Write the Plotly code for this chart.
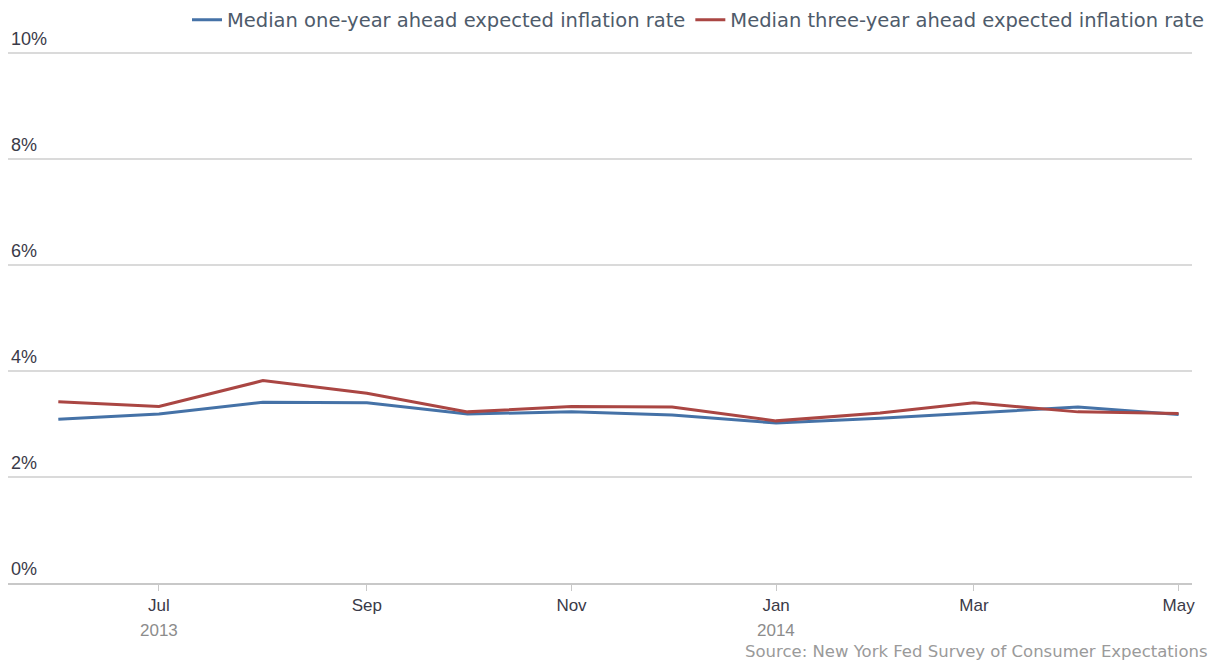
import plotly.graph_objects as go

months = ["2013-06-01", "2013-07-01", "2013-08-01", "2013-09-01", "2013-10-01", "2013-11-01",
          "2013-12-01", "2014-01-01", "2014-02-01", "2014-03-01", "2014-04-01", "2014-05-01"]
one_year = [3.09, 3.19, 3.41, 3.40, 3.19, 3.23, 3.17, 3.02, 3.11, 3.21, 3.32, 3.18]
three_year = [3.42, 3.33, 3.82, 3.58, 3.23, 3.33, 3.32, 3.06, 3.21, 3.40, 3.23, 3.20]

tick_dates = ["2013-07-01", "2013-09-01", "2013-11-01", "2014-01-01", "2014-03-01", "2014-05-01"]
tick_labels = ["Jul", "Sep", "Nov", "Jan", "Mar", "May"]
year_dates = ["2013-07-01", "2014-01-01"]
year_labels = ["2013", "2014"]
y_ticks = [0, 2, 4, 6, 8, 10]
y_labels = ["0%", "2%", "4%", "6%", "8%", "10%"]

# page has an 8px body margin, so the figure is shifted by 8px
OFF = 8
W, H = 1219 - OFF, 666 - OFF
L, R, T, B = 8 - OFF, 1192 - OFF, 50 - OFF, 583 - OFF   # plot area pixel box

fig = go.Figure()
fig.add_trace(go.Scatter(x=months, y=one_year, mode="lines",
                         name="Median one-year ahead expected inflation rate",
                         line=dict(color="#4572A7", width=3)))
fig.add_trace(go.Scatter(x=months, y=three_year, mode="lines",
                         name="Median three-year ahead expected inflation rate",
                         line=dict(color="#AA4643", width=3)))

for d, t in zip(year_dates, year_labels):
    fig.add_annotation(x=d, xref="x", y=(B - (630 - OFF)) / (B - T), yref="paper", yanchor="middle",
                       text=t, showarrow=False,
                       font=dict(family="Liberation Sans, Arial", size=17, color="#8c8c8c"))

fig.add_annotation(x=(1210 - OFF - L) / (R - L), xref="paper", y=(B - (652 - OFF)) / (B - T), yref="paper",
                   xanchor="right", yanchor="middle",
                   text="Source: New York Fed Survey of Consumer Expectations", showarrow=False,
                   font=dict(family="DejaVu Sans", size=16.5, color="#9a9a9a"))

fig.update_layout(
    width=W, height=H,
    margin=dict(l=L, r=W - R, t=T, b=H - B, autoexpand=False),
    paper_bgcolor="white", plot_bgcolor="white",
    showlegend=True,
    legend=dict(orientation="h", xref="container", yref="container",
                x=(1209 - OFF) / W, xanchor="right", y=1 - (20 - OFF) / H, yanchor="middle",
                font=dict(family="DejaVu Sans", size=19.5, color="#4e5b6b"),
                itemwidth=30, tracegroupgap=0, bgcolor="rgba(0,0,0,0)"),
    xaxis=dict(type="date", range=["2013-05-17", "2014-05-05"],
               tickmode="array", tickvals=tick_dates, ticktext=tick_labels,
               showgrid=False, showline=True, linecolor="#c8c8c8", linewidth=2,
               ticks="outside", ticklen=6, tickcolor="#c8c8c8", tickwidth=1,
               tickfont=dict(family="Liberation Sans, Arial", size=17, color="#3a3a48"),
               zeroline=False),
    yaxis=dict(range=[0, 10.06], tickmode="array", tickvals=y_ticks, ticktext=y_labels,
               showgrid=True, gridcolor="#dadada", gridwidth=2,
               ticklabelposition="inside top", ticklabeloverflow="allow",
               ticklabelstandoff=0, ticklabelshift=-2, ticks="",
               showline=False, zeroline=False,
               tickfont=dict(family="Liberation Sans, Arial", size=18, color="#3a3a48")),
)

fig.write_html("out.html")
